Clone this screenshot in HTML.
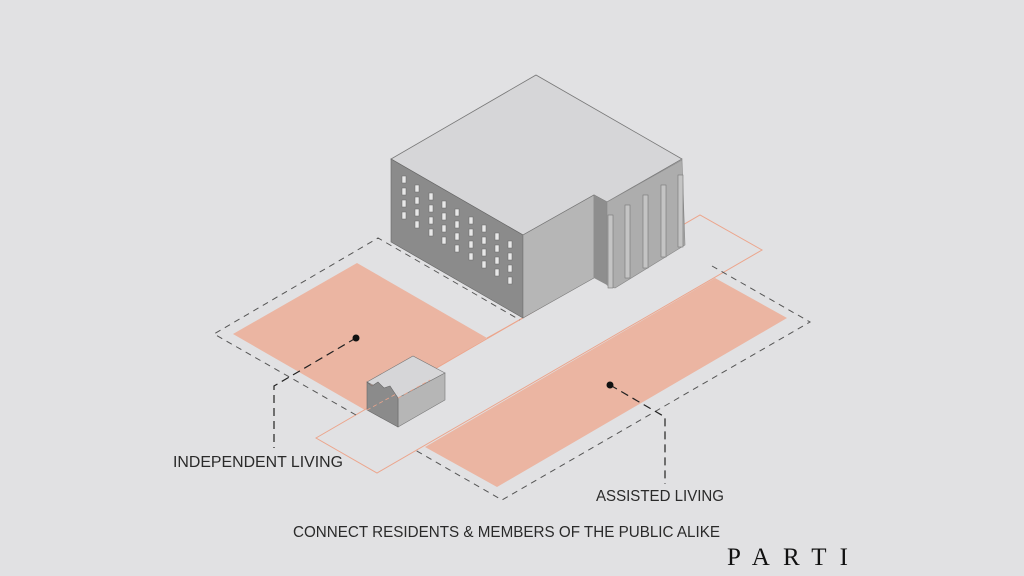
<!DOCTYPE html>
<html><head><meta charset="utf-8"><style>
html,body{margin:0;padding:0;background:#e1e1e3;}
svg{display:block}
text{font-family:"Liberation Sans",sans-serif;fill:#2a2a2a}
</style></head><body>
<svg width="1024" height="576" viewBox="0 0 1024 576" xmlns="http://www.w3.org/2000/svg">
<rect width="1024" height="576" fill="#e1e1e3"/>
<!-- plots -->
<polygon points="233,334 357,263 487,338 365,410" fill="#ebb5a2"/>
<polygon points="715,278 787,318 497,487 425,447" fill="#ebb5a2"/>
<!-- path strip -->
<polygon points="316,438 700,215 762,250 377,473" fill="none" stroke="#eca58c" stroke-width="1"/>
<line x1="487" y1="338" x2="523" y2="318" stroke="#eca58c" stroke-width="1"/>
<!-- dashed boundaries -->
<g fill="none" stroke="#555" stroke-width="1" stroke-dasharray="6,5">
<polyline points="356,415 214,334 378,238 520,320"/>
<polyline points="712,266 810,322 502,500 415,450"/>
</g>
<!-- main building -->
<polygon points="536,75 682,159 607,202 594,195 523,235 391,159" fill="#d6d6d8" stroke="#777" stroke-width="0.8"/>
<polygon points="391,159 523,235 523,318 391,242" fill="#8b8b8b" stroke="#666" stroke-width="0.6"/>
<polygon points="523,235 594,195 594,278 523,318" fill="#b6b6b6" stroke="#777" stroke-width="0.6"/>
<polygon points="594,195 607,202 607,285 594,278" fill="#8e8e8e"/>
<polygon points="607,202 682,160 685,245 615,288 607,285" fill="#adadad" stroke="#888" stroke-width="0.6"/>
<g fill="#c4c4c4" stroke="#777" stroke-width="0.6">
<rect x="608" y="215" width="5" height="73"/>
<rect x="625" y="205" width="5" height="73"/>
<rect x="643" y="195" width="5" height="73"/>
<rect x="661" y="185" width="5" height="72"/>
<rect x="678" y="175" width="5" height="72"/>
</g>
<g id="win" fill="#e8e8e8" stroke="#666" stroke-width="0.5">
<rect x="402" y="176" width="4" height="7"/><rect x="402" y="188" width="4" height="7"/><rect x="402" y="200" width="4" height="7"/><rect x="402" y="212" width="4" height="7"/>
<rect x="415" y="185" width="4" height="7"/><rect x="415" y="197" width="4" height="7"/><rect x="415" y="209" width="4" height="7"/><rect x="415" y="221" width="4" height="7"/>
<rect x="429" y="193" width="4" height="7"/><rect x="429" y="205" width="4" height="7"/><rect x="429" y="217" width="4" height="7"/><rect x="429" y="229" width="4" height="7"/>
<rect x="442" y="201" width="4" height="7"/><rect x="442" y="213" width="4" height="7"/><rect x="442" y="225" width="4" height="7"/><rect x="442" y="237" width="4" height="7"/>
<rect x="455" y="209" width="4" height="7"/><rect x="455" y="221" width="4" height="7"/><rect x="455" y="233" width="4" height="7"/><rect x="455" y="245" width="4" height="7"/>
<rect x="469" y="217" width="4" height="7"/><rect x="469" y="229" width="4" height="7"/><rect x="469" y="241" width="4" height="7"/><rect x="469" y="253" width="4" height="7"/>
<rect x="482" y="225" width="4" height="7"/><rect x="482" y="237" width="4" height="7"/><rect x="482" y="249" width="4" height="7"/><rect x="482" y="261" width="4" height="7"/>
<rect x="495" y="233" width="4" height="7"/><rect x="495" y="245" width="4" height="7"/><rect x="495" y="257" width="4" height="7"/><rect x="495" y="269" width="4" height="7"/>
<rect x="508" y="241" width="4" height="7"/><rect x="508" y="253" width="4" height="7"/><rect x="508" y="265" width="4" height="7"/><rect x="508" y="277" width="4" height="7"/>
</g>
<!-- small building -->
<polygon points="367,382 413,356 445,373 398,398" fill="#d6d6d8" stroke="#777" stroke-width="0.6"/>
<polygon points="398,398 445,373 445,400 398,427" fill="#b6b6b6" stroke="#777" stroke-width="0.6"/>
<polygon points="367,382 372,386 378,382 384,388 390,386 394,392 398,398 398,427 367,410" fill="#8b8b8b" stroke="#666" stroke-width="0.6"/>
<line x1="398" y1="398" x2="430" y2="380" stroke="#eca58c" stroke-width="0.8" stroke-dasharray="4,3"/>
<line x1="367" y1="410" x2="398" y2="393" stroke="#eca58c" stroke-width="0.8" stroke-dasharray="4,3"/>
<!-- leaders -->
<g fill="none" stroke="#222" stroke-width="1.2" stroke-dasharray="8,5">
<polyline points="356,338 274,386 274,448"/>
<polyline points="610,385 665,417 665,484"/>
</g>
<circle cx="356" cy="338" r="3.5" fill="#111"/>
<circle cx="610" cy="385" r="3.5" fill="#111"/>
<!-- text -->
<text x="173" y="467" font-size="16" textLength="170" lengthAdjust="spacingAndGlyphs">INDEPENDENT LIVING</text>
<text x="596" y="501" font-size="16" textLength="128" lengthAdjust="spacingAndGlyphs">ASSISTED LIVING</text>
<text x="293" y="537" font-size="16" textLength="427" lengthAdjust="spacingAndGlyphs">CONNECT RESIDENTS &amp; MEMBERS OF THE PUBLIC ALIKE</text>
<text x="727" y="565" font-size="25" style="font-family:'Liberation Serif',serif;fill:#111" textLength="121" lengthAdjust="spacing">PARTI</text>
</svg>
</body></html>
